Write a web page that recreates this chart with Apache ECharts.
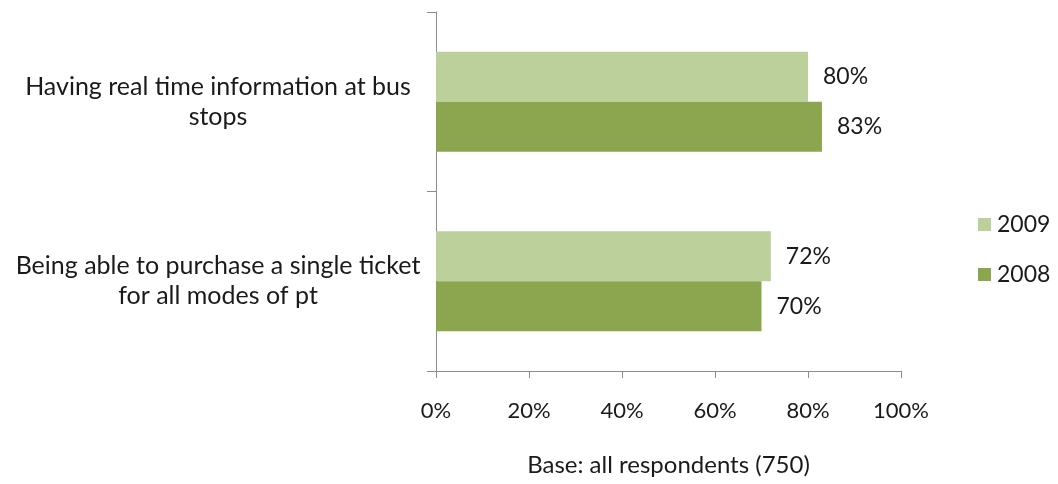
<!DOCTYPE html>
<html>
<head>
<meta charset="utf-8">
<script src="https://cdn.jsdelivr.net/npm/echarts@6/dist/echarts.min.js"></script>
<style>
  html, body { margin: 0; padding: 0; background: #fff; }
  #chart { width: 1058px; height: 484px; }
</style>
</head>
<body>
<div id="chart"></div>
<script>
// Survey items (category axis, top to bottom)
const categories = [
  'Having real time information at bus\nstops',
  'Being able to purchase a single ticket\nfor all modes of pt'
];
const seriesNames = ['2009', '2008'];
const values2009 = [80, 72];
const values2008 = [83, 70];
const xTicks = [0, 20, 40, 60, 80, 100];
const axisTitle = 'Base: all respondents (750)';

const FONT = 'Lato, "Open Sans", sans-serif';
const TEXT = '#1a1a1a';
const AXIS = '#8c8c8c';

const chart = echarts.init(document.getElementById('chart'));

const valueLabel = {
  show: true,
  position: 'right',
  distance: 15,
  fontSize: 23,
  color: TEXT,
  fontFamily: FONT,
  formatter: p => p.value + '%'
};

chart.setOption({
  animation: false,
  textStyle: { fontFamily: FONT },
  grid: { left: 436, right: 157, top: 12, bottom: 113, containLabel: false },
  legend: {
    orient: 'vertical',
    left: 973,
    top: 208,
    itemWidth: 13,
    itemHeight: 13,
    itemGap: 27,
    icon: 'rect',
    textStyle: { fontFamily: FONT, fontSize: 23, color: TEXT, padding: [0, 0, 0, 1] },
    data: seriesNames
  },
  xAxis: {
    type: 'value',
    min: xTicks[0],
    max: xTicks[xTicks.length - 1],
    interval: 20,
    splitLine: { show: false },
    axisLine: { show: true, lineStyle: { color: AXIS, width: 1 } },
    axisTick: { show: true, length: 7, lineStyle: { color: AXIS } },
    axisLabel: {
      margin: 29,
      fontSize: 22,
      color: TEXT,
      fontFamily: FONT,
      formatter: v => v + '%'
    },
    name: axisTitle,
    nameLocation: 'middle',
    nameGap: 82,
    nameTextStyle: { fontSize: 24, color: TEXT, fontFamily: FONT }
  },
  yAxis: {
    type: 'category',
    inverse: true,
    data: categories,
    axisLine: { show: true, lineStyle: { color: AXIS, width: 1 } },
    axisTick: { show: true, length: 9, lineStyle: { color: AXIS } },
    axisLabel: {
      margin: 218,
      align: 'center',
      fontSize: 25,
      lineHeight: 30,
      color: TEXT,
      fontFamily: FONT
    }
  },
  series: [
    {
      name: seriesNames[0],
      type: 'bar',
      data: values2009,
      barWidth: 50,
      barGap: '0%',
      itemStyle: { color: '#BCD09B' },
      label: valueLabel
    },
    {
      name: seriesNames[1],
      type: 'bar',
      data: values2008,
      barWidth: 50,
      barGap: '0%',
      itemStyle: { color: '#8BA64F' },
      label: valueLabel
    }
  ]
});
</script>
</body>
</html>
